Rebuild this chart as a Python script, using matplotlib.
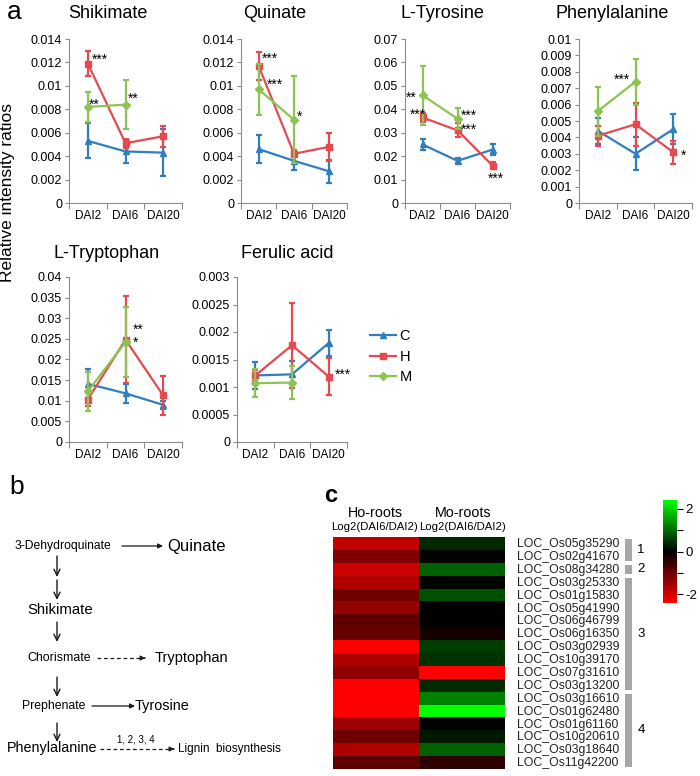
import matplotlib
matplotlib.use("Agg")
import matplotlib.pyplot as plt
import numpy as np
from matplotlib.colors import LinearSegmentedColormap
from matplotlib.patches import Rectangle
from matplotlib.ticker import FuncFormatter

plt.rcParams['font.family'] = ['Liberation Sans', 'DejaVu Sans']

W, H = 700, 776

days = ['DAI2', 'DAI6', 'DAI20']
groups = ['C', 'H', 'M']
colors = {'C': '#2f7ebf', 'H': '#e44a50', 'M': '#8dc350'}
markers = {'C': '^', 'H': 's', 'M': 'D'}
msize = {'C': 5, 'H': 5, 'M': 3.8}
axis_grey = '#8c8c8c'

# mean / sd (M has no DAI20 value)
shik_c, shik_c_sd = [0.0053, 0.0044, 0.0043], [0.0015, 0.0010, 0.0020]
shik_h, shik_h_sd = [0.0119, 0.0051, 0.0057], [0.0011, 0.0004, 0.0009]
shik_m, shik_m_sd = [0.0082, 0.0084], [0.0013, 0.0021]

quin_c, quin_c_sd = [0.0046, 0.0036, 0.0027], [0.0012, 0.0008, 0.0010]
quin_h, quin_h_sd = [0.0117, 0.0042, 0.0048], [0.0012, 0.0003, 0.0012]
quin_m, quin_m_sd = [0.0097, 0.0071], [0.0022, 0.0037]

tyr_c, tyr_c_sd = [0.025, 0.018, 0.0228], [0.0025, 0.001, 0.0022]
tyr_h, tyr_h_sd = [0.0365, 0.031, 0.016], [0.002, 0.003, 0.0015]
tyr_m, tyr_m_sd = [0.046, 0.036], [0.0125, 0.0045]

phe_c, phe_c_sd = [0.0044, 0.0030, 0.0045], [0.0008, 0.0010, 0.0009]
phe_h, phe_h_sd = [0.0041, 0.0048, 0.0031], [0.0006, 0.0013, 0.0007]
phe_m, phe_m_sd = [0.0056, 0.0074], [0.0015, 0.0014]

trp_c, trp_c_sd = [0.0141, 0.0118, 0.0090], [0.0035, 0.0023, 0.0010]
trp_h, trp_h_sd = [0.0103, 0.0248, 0.0113], [0.0015, 0.0105, 0.0048]
trp_m, trp_m_sd = [0.0123, 0.0242], [0.0047, 0.0085]

fer_c, fer_c_sd = [0.00121, 0.00123, 0.00180], [0.00025, 0.00025, 0.00024]
fer_h, fer_h_sd = [0.00121, 0.00176, 0.00119], [0.00010, 0.00077, 0.00033]
fer_m, fer_m_sd = [0.00107, 0.00108], [0.00025, 0.00030]

# significance marks: (x in category units, y, text, alignment)
shik_stars = [(0.61, 0.0122, '***', 'left'), (0.53, 0.0084, '**', 'left'), (1.57, 0.0089, '**', 'left')]
quin_stars = [(0.59, 0.0123, '***', 'left'), (0.74, 0.0101, '***', 'left'), (1.58, 0.0074, '*', 'left')]
tyr_stars = [(0.34, 0.045, '**', 'right'), (0.60, 0.0376, '***', 'right'), (1.60, 0.0373, '***', 'left'),
             (1.60, 0.0314, '***', 'left'), (2.59, 0.0103, '***', 'center')]
phe_stars = [(1.14, 0.0075, '***', 'center'), (2.71, 0.0029, '*', 'left')]
trp_stars = [(1.70, 0.0273, '**', 'left'), (1.70, 0.0240, '*', 'left')]
fer_stars = [(2.67, 0.00123, '***', 'left')]

# heatmap (log2 DAI6/DAI2)
genes = ['LOC_Os05g35290', 'LOC_Os02g41670', 'LOC_Os08g34280', 'LOC_Os03g25330',
         'LOC_Os01g15830', 'LOC_Os05g41990', 'LOC_Os06g46799', 'LOC_Os06g16350',
         'LOC_Os03g02939', 'LOC_Os10g39170', 'LOC_Os07g31610', 'LOC_Os03g13200',
         'LOC_Os03g16610', 'LOC_Os01g62480', 'LOC_Os01g61160', 'LOC_Os10g20610',
         'LOC_Os03g18640', 'LOC_Os11g42200']
ho_roots = [-1.8, -1.2, -1.9, -1.65, -1.05, -1.4, -0.9, -0.95, -2.4, -1.65,
            -1.35, -2.4, -2.4, -2.4, -1.5, -1.05, -1.65, -0.9]
mo_roots = [0.38, 0.0, 0.9, 0.05, 0.75, 0.0, 0.0, -0.2, 0.55, 0.45,
            -2.4, 0.38, 1.2, 2.4, 0.0, 0.22, 0.9, -0.45]
group_sizes = [2, 1, 9, 6]
group_names = ['1', '2', '3', '4']


def box(x0, y0, x1, y1):
    return [x0 / W, 1 - y1 / H, (x1 - x0) / W, (y1 - y0) / H]


fig = plt.figure(figsize=(W / 100, H / 100), dpi=100)

# canvas in pixel coordinates for labels and the pathway sketch
cv = fig.add_axes([0, 0, 1, 1])
cv.set_xlim(0, W)
cv.set_ylim(H, 0)
cv.axis('off')


def line_panel(rect, title, title_xy, ymax, ystep, series, stars):
    ax = fig.add_axes(box(*rect))
    xs = np.arange(3) + 0.5
    for g in groups:
        m, sd = series[g]
        n = len(m)
        ax.errorbar(xs[:n], m, yerr=sd, fmt='none', ecolor=colors[g],
                    elinewidth=1.6, capsize=2.5, capthick=1.6)
        ax.plot(xs[:n], m, color=colors[g], marker=markers[g], ms=msize[g],
                lw=1.6, label=g)
    ax.set_xlim(0, 3)
    ax.set_ylim(0, ymax)
    ax.set_yticks(np.arange(0, ymax + ystep / 2, ystep))
    ax.yaxis.set_major_formatter(FuncFormatter(lambda v, p: '%g' % round(v, 6)))
    ax.set_xticks([0, 1, 2, 3])
    ax.set_xticklabels([])
    ax.set_xticks(xs, minor=True)
    ax.set_xticklabels(days, minor=True)
    ax.tick_params(axis='x', which='minor', length=0, pad=5, labelsize=8.5)
    ax.tick_params(axis='x', which='major', length=4, color=axis_grey)
    ax.tick_params(axis='y', length=3, color=axis_grey, labelsize=9, pad=2)
    for s in ['top', 'right']:
        ax.spines[s].set_visible(False)
    for s in ['left', 'bottom']:
        ax.spines[s].set_color(axis_grey)
    ax.patch.set_alpha(0)
    cv.text(title_xy[0], title_xy[1], title, ha='center', va='center', fontsize=13)
    for sx, sy, st, ha in stars:
        ax.text(sx, sy, st, ha=ha, va='center', fontsize=9.8)
    return ax


line_panel((69, 39, 182, 203), 'Shikimate', (108, 14), 0.014, 0.002,
           {'C': (shik_c, shik_c_sd), 'H': (shik_h, shik_h_sd), 'M': (shik_m, shik_m_sd)}, shik_stars)
line_panel((241, 39, 347, 203), 'Quinate', (275, 14), 0.014, 0.002,
           {'C': (quin_c, quin_c_sd), 'H': (quin_h, quin_h_sd), 'M': (quin_m, quin_m_sd)}, quin_stars)
line_panel((405, 39, 510, 203), 'L-Tyrosine', (442, 14), 0.07, 0.01,
           {'C': (tyr_c, tyr_c_sd), 'H': (tyr_h, tyr_h_sd), 'M': (tyr_m, tyr_m_sd)}, tyr_stars)
line_panel((579, 39, 692, 203), 'Phenylalanine', (612, 14), 0.01, 0.001,
           {'C': (phe_c, phe_c_sd), 'H': (phe_h, phe_h_sd), 'M': (phe_m, phe_m_sd)}, phe_stars)
line_panel((69, 277, 182, 442), 'L-Tryptophan', (107, 253), 0.04, 0.005,
           {'C': (trp_c, trp_c_sd), 'H': (trp_h, trp_h_sd), 'M': (trp_m, trp_m_sd)}, trp_stars)
ax_f = line_panel((237, 277, 347, 442), 'Ferulic acid', (287, 253), 0.003, 0.0005,
                  {'C': (fer_c, fer_c_sd), 'H': (fer_h, fer_h_sd), 'M': (fer_m, fer_m_sd)}, fer_stars)

hs, ls = ax_f.get_legend_handles_labels()
fig.legend(hs, ls, loc='upper left', bbox_to_anchor=(357 / W, 1 - 316 / H), frameon=False,
           fontsize=10.5, handlelength=1.8, handletextpad=0.2, labelspacing=0.45)

cv.text(8, 193, 'Relative intensity ratios', rotation=90, ha='center', va='center', fontsize=12.5)
cv.text(14, 12, 'a', ha='center', va='center', fontsize=19)

# ---- panel b: pathway sketch
cv.text(17, 487, 'b', ha='center', va='center', fontsize=19)
arr_c = '#1a1a1a'


def harrow(x0, x1, y, dashed=False):
    if dashed:
        cv.plot([x0, x1 - 5], [y, y], color=arr_c, lw=0.9, ls=(0, (3, 2.2)))
        cv.annotate('', xy=(x1, y), xytext=(x1 - 6, y),
                    arrowprops=dict(arrowstyle='-|>', color=arr_c, lw=0.8, mutation_scale=7))
    else:
        cv.annotate('', xy=(x1, y), xytext=(x0, y),
                    arrowprops=dict(arrowstyle='-|>', color=arr_c, lw=0.9, mutation_scale=7,
                                    shrinkA=0, shrinkB=0))


def varrow(x, y0, y1):
    cv.annotate('', xy=(x, y1), xytext=(x, y0),
                arrowprops=dict(arrowstyle='->,head_length=0.45,head_width=0.22', color=arr_c,
                                lw=1.0, mutation_scale=10, shrinkA=0, shrinkB=0))


cv.text(15, 546, '3-Dehydroquinate', ha='left', va='center', fontsize=8.7)
harrow(122, 163, 546)
cv.text(167, 546, 'Quinate', ha='left', va='center', fontsize=12)
varrow(57, 556, 577)
varrow(57, 580, 600)
cv.text(27, 610, 'Shikimate', ha='left', va='center', fontsize=10.7)
varrow(57, 622, 642)
cv.text(27, 658, 'Chorismate', ha='left', va='center', fontsize=8.9)
harrow(97, 148, 658, dashed=True)
cv.text(155, 658, 'Tryptophan', ha='left', va='center', fontsize=10.5)
varrow(57, 677, 697)
cv.text(22, 706, 'Prephenate', ha='left', va='center', fontsize=8.8)
harrow(92, 135, 706)
cv.text(135, 706, 'Tyrosine', ha='left', va='center', fontsize=10.4)
varrow(57, 723, 742)
cv.text(7, 748, 'Phenylalanine', ha='left', va='center', fontsize=10.4)
harrow(100, 177, 749, dashed=True)
cv.text(136, 739, '1, 2, 3, 4', ha='center', va='center', fontsize=7)
cv.text(178, 749, 'Lignin  biosynthesis', ha='left', va='center', fontsize=8.5)

# ---- panel c: heatmap
cv.text(331, 496, 'c', ha='center', va='center', fontsize=17, fontweight='bold')
cmap = LinearSegmentedColormap.from_list('rkg', ['#ff0000', '#000000', '#00ff00'])
ax_h = fig.add_axes(box(333, 537, 505, 769))
vals = np.column_stack([ho_roots, mo_roots])
mesh = ax_h.pcolormesh(vals, cmap=cmap, vmin=-2.4, vmax=2.4)
ax_h.set_ylim(len(genes), 0)
ax_h.set_xlim(0, 2)
ax_h.axis('off')

for cx, name in [(375, 'Ho-roots'), (463, 'Mo-roots')]:
    cv.text(cx, 513, name, ha='center', va='center', fontsize=10.3)
    cv.text(cx, 527, 'Log2(DAI6/DAI2)', ha='center', va='center', fontsize=8.2)

ax_l = fig.add_axes(box(505, 537, 700, 769))
ax_l.set_xlim(505, 700)
ax_l.set_ylim(len(genes), 0)
ax_l.axis('off')
for i, g in enumerate(genes):
    ax_l.text(517, i + 0.55, g, ha='left', va='center', fontsize=8.8, color='#222222')
start = 0
for n, name in zip(group_sizes, group_names):
    ax_l.add_patch(Rectangle((625, start + 0.15), 7, n - 0.3, color='#a6a6a6', lw=0))
    ax_l.text(641, start + n / 2, name, ha='center', va='center', fontsize=9.5)
    start += n

cax = fig.add_axes(box(663, 500, 677, 603))
cb = fig.colorbar(mesh, cax=cax, ticks=[-2, -1, 0, 1, 2])
cb.ax.set_yticklabels(['-2', '', '0', '', '2'])
cb.outline.set_visible(False)
cb.ax.tick_params(length=4, width=0.8, labelsize=9.5, pad=2)

fig.savefig('out.png', dpi=100)
